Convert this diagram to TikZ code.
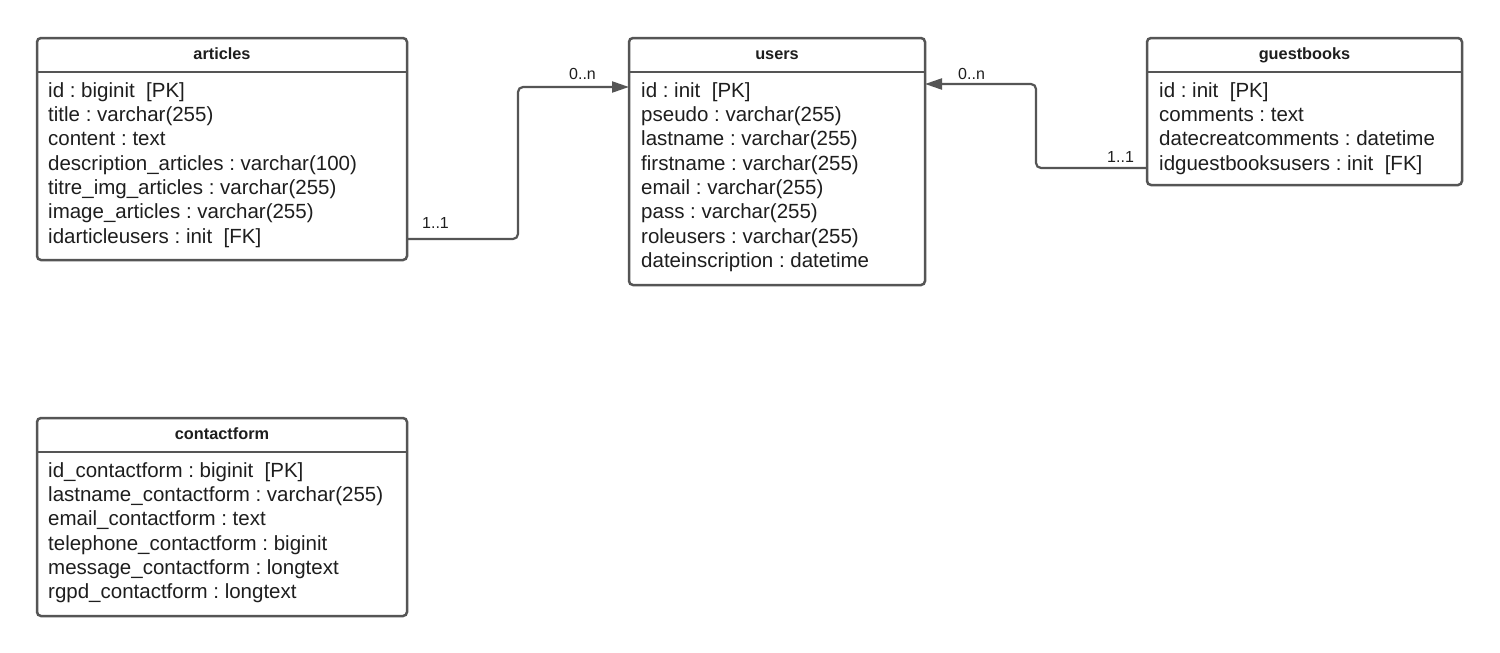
\documentclass[tikz,border=0pt]{standalone}
\usepackage{fontspec}
\setmainfont{Liberation Sans}
\frenchspacing
\usetikzlibrary{arrows.meta}
\definecolor{linec}{HTML}{555555}
\definecolor{textc}{HTML}{1E1E1E}
\tikzset{
  tbox/.style={draw=linec, line width=2.5pt, rounded corners=4pt, fill=white,
    anchor=north west, inner sep=0pt, outer sep=0pt},
  hline/.style={draw=linec, line width=2.5pt},
  hdr/.style={anchor=base, inner sep=0pt, text=textc, font=\fontsize{16.3}{18}\selectfont\bfseries},
  row/.style={anchor=base west, inner sep=0pt, text=textc, font=\fontsize{20.5}{24}\selectfont\frenchspacing},
  mult/.style={anchor=base west, inner sep=0pt, text=textc, font=\fontsize{16}{18}\selectfont},
  conn/.style={draw=linec, line width=2.2pt, rounded corners=5pt},
  arr/.style={-{Triangle[length=17pt,width=11pt]}},
}
\begin{document}
\begin{tikzpicture}[x=1pt,y=-1pt]
\useasboundingbox (0,0) rectangle (1500,653);
\fill[white] (0,0) rectangle (1500,653);

% ---------- articles ----------
\node[tbox, minimum width=370pt, minimum height=222pt] (articles) at (37,38) {};
\draw[hline] (articles.west |- 0,72) -- (articles.east |- 0,72);
\node[hdr] (articlesH) at (222,59) {articles};
\node[row] (a1) at (48,97) {id : biginit\ \ [PK]};
\node[row] (a2) at (48,121.35) {title : varchar(255)};
\node[row] (a3) at (48,145.7) {content : text};
\node[row] (a4) at (48,170.05) {description\_articles : varchar(100)};
\node[row] (a5) at (48,194.4) {titre\_img\_articles : varchar(255)};
\node[row] (a6) at (48,218.75) {image\_articles : varchar(255)};
\node[row] (a7) at (48,243.1) {idarticleusers : init\ \ [FK]};

% ---------- users ----------
\node[tbox, minimum width=296pt, minimum height=247pt] (users) at (629,38) {};
\draw[hline] (users.west |- 0,72) -- (users.east |- 0,72);
\node[hdr] (usersH) at (777,59) {users};
\node[row] (u1) at (641,97) {id : init\ \ [PK]};
\node[row] (u2) at (641,121.35) {pseudo : varchar(255)};
\node[row] (u3) at (641,145.7) {lastname : varchar(255)};
\node[row] (u4) at (641,170.05) {firstname : varchar(255)};
\node[row] (u5) at (641,194.4) {email : varchar(255)};
\node[row] (u6) at (641,218.75) {pass : varchar(255)};
\node[row] (u7) at (641,243.1) {roleusers : varchar(255)};
\node[row] (u8) at (641,267.45) {dateinscription : datetime};

% ---------- guestbooks ----------
\node[tbox, minimum width=315pt, minimum height=147pt] (guest) at (1147,38) {};
\draw[hline] (guest.west |- 0,72) -- (guest.east |- 0,72);
\node[hdr] (guestH) at (1304.5,59) {guestbooks};
\node[row] (g1) at (1159,97) {id : init\ \ [PK]};
\node[row] (g2) at (1159,121.35) {comments : text};
\node[row] (g3) at (1159,145.7) {datecreatcomments : datetime};
\node[row] (g4) at (1159,170.05) {idguestbooksusers : init\ \ [FK]};

% ---------- contactform ----------
\node[tbox, minimum width=370pt, minimum height=198pt] (contact) at (37,418) {};
\draw[hline] (contact.west |- 0,452) -- (contact.east |- 0,452);
\node[hdr] (contactH) at (222,439) {contactform};
\node[row] (c1) at (48,477) {id\_contactform : biginit\ \ [PK]};
\node[row] (c2) at (48,501.35) {lastname\_contactform : varchar(255)};
\node[row] (c3) at (48,525.7) {email\_contactform : text};
\node[row] (c4) at (48,550.05) {telephone\_contactform : biginit};
\node[row] (c5) at (48,574.4) {message\_contactform : longtext};
\node[row] (c6) at (48,598.75) {rgpd\_contactform : longtext};

% ---------- connectors ----------
\coordinate (k1) at (518,239);
\coordinate (k2) at (518,87);
\draw[conn, arr] (articles.east |- k1) -- (k1) -- (k2) -- (users.west |- k2);
\node[mult] (m1) at (422,228) {1..1};
\node[mult] (m2) at (569,79.5) {0..n};

\coordinate (k3) at (1036,168);
\coordinate (k4) at (1036,84);
\draw[conn, arr] (guest.west |- k3) -- (k3) -- (k4) -- (users.east |- k4);
\node[mult] (m3) at (1107,162.7) {1..1};
\node[mult] (m4) at (958,79.5) {0..n};
\end{tikzpicture}
\end{document}
